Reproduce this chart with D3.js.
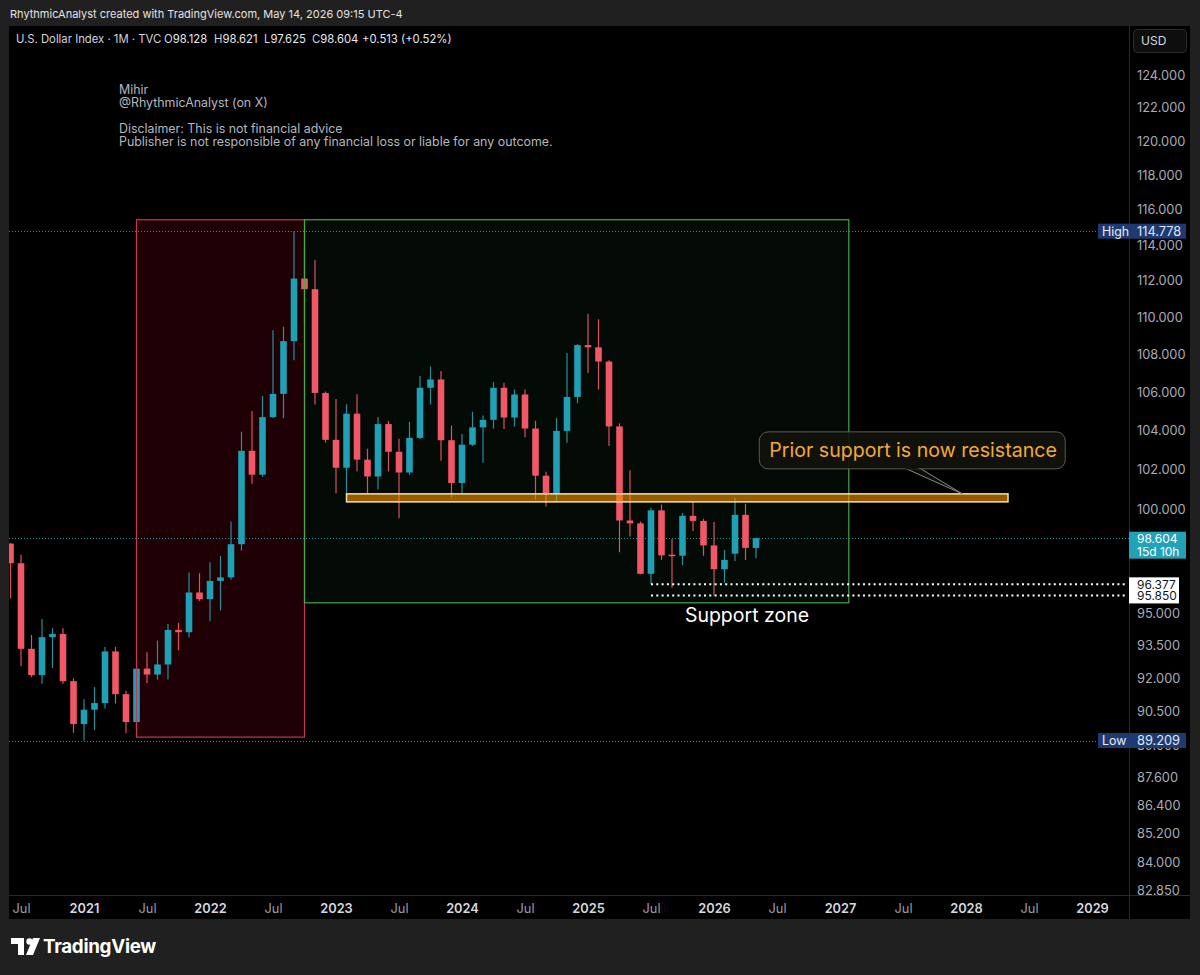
<!DOCTYPE html>
<html><head><meta charset="utf-8">
<script src="https://cdn.jsdelivr.net/npm/d3@7"></script>
<style>
html,body{margin:0;padding:0;background:#202020;}
svg{display:block;}
text{font-family:Inter,"Noto Sans",Roboto,sans-serif;}
</style></head><body>
<svg id="c" width="1200" height="975"></svg>
<script>
// ---------- DATA ----------
const months = ["2020-06","2020-07","2020-08","2020-09","2020-10","2020-11","2020-12",
"2021-01","2021-02","2021-03","2021-04","2021-05","2021-06","2021-07","2021-08","2021-09","2021-10","2021-11","2021-12",
"2022-01","2022-02","2022-03","2022-04","2022-05","2022-06","2022-07","2022-08","2022-09","2022-10","2022-11","2022-12",
"2023-01","2023-02","2023-03","2023-04","2023-05","2023-06","2023-07","2023-08","2023-09","2023-10","2023-11","2023-12",
"2024-01","2024-02","2024-03","2024-04","2024-05","2024-06","2024-07","2024-08","2024-09","2024-10","2024-11","2024-12",
"2025-01","2025-02","2025-03","2025-04","2025-05","2025-06","2025-07","2025-08","2025-09","2025-10","2025-11","2025-12",
"2026-01","2026-02","2026-03","2026-04","2026-05"];
const opens  = [98.34,97.39,93.35,92.14,93.89,94.04,91.87,
89.94,90.58,90.88,93.23,91.28,90.03,92.44,92.17,92.63,94.23,94.12,95.99,
95.67,96.54,96.71,98.31,102.96,101.75,104.69,105.90,108.70,112.12,111.53,105.95,
103.52,102.10,104.87,102.51,101.66,104.33,102.91,101.86,103.62,106.22,106.66,103.50,
101.33,103.27,104.16,104.55,106.22,104.67,105.87,104.10,101.70,100.78,103.98,105.74,
108.49,108.37,107.61,104.21,99.47,99.33,96.88,99.97,97.80,97.75,99.70,99.45,
98.25,97.10,97.85,99.75,98.128];
const highs  = [98.36,97.80,93.99,94.74,94.31,94.31,92.00,
91.05,91.60,93.44,93.44,91.43,92.46,93.19,93.73,94.50,94.56,96.94,96.91,
97.44,97.74,99.42,103.94,105.01,105.79,109.29,109.48,114.778,113.88,113.15,106.02,
105.63,105.36,105.88,103.06,104.70,104.50,103.57,104.44,106.84,107.35,107.11,104.26,
103.82,104.97,104.77,106.52,106.49,106.13,106.13,104.50,101.90,104.63,108.07,108.54,
110.18,109.88,107.68,104.37,101.98,99.42,100.10,100.26,98.56,99.84,100.39,99.55,
99.40,98.03,100.60,100.30,98.621];
const lows   = [95.71,92.55,92.05,91.75,92.47,91.75,89.55,
89.209,89.68,90.63,90.86,89.53,89.66,91.78,91.94,91.94,93.28,93.87,95.58,
94.63,95.14,96.60,98.00,101.30,101.64,104.65,104.64,107.68,109.54,105.34,103.38,
100.82,100.80,101.92,100.79,101.01,101.92,99.58,101.74,103.56,105.35,102.46,100.62,
100.82,103.20,102.35,104.10,104.08,104.20,103.65,100.52,100.16,100.40,103.37,105.42,
107.00,106.13,103.20,97.92,98.69,96.85,96.377,97.55,96.22,97.30,98.95,97.75,
95.85,96.45,97.50,97.55,97.625];
const closes = [97.39,93.35,92.14,93.89,94.04,91.87,89.94,
90.58,90.88,93.23,91.28,90.03,92.44,92.17,92.63,94.23,94.12,95.99,95.67,
96.54,96.71,98.31,102.96,101.75,104.69,105.90,108.70,112.12,111.53,105.95,103.52,
102.10,104.87,102.51,101.66,104.33,102.91,101.86,103.62,106.22,106.66,103.50,101.33,
103.27,104.16,104.55,106.22,104.67,105.87,104.10,101.70,100.78,103.98,105.74,108.49,
108.37,107.61,104.21,99.47,99.33,96.88,99.97,97.77,97.75,99.70,99.45,98.25,
97.10,97.55,99.75,98.13,98.604];

const priceTicks = [124,122,120,118,116,114,112,110,108,106,104,102,100,95,93.5,92,90.5,89,87.6,86.4,85.2,84,82.85];
const timeTicks = ["2020-07","2021-01","2021-07","2022-01","2022-07","2023-01","2023-07","2024-01","2024-07",
"2025-01","2025-07","2026-01","2026-07","2027-01","2027-07","2028-01","2028-07","2029-01"];

const highPrice = 114.778, lowPrice = 89.209, lastPrice = 98.604;
const supportLevels = [96.377, 95.850];
const supportStart = "2025-07";
const redBox = ["2021-06", "2022-10", 115.43, 89.36];
const greenBox = ["2022-10", "2027-01-27", 115.43, 95.50];
const resistZone = ["2023-02", "2028-05", 100.79, 100.39];
const calloutTip = ["2027-12-21", 100.79];
const calloutText = "Prior support is now resistance";
const supportText = "Support zone";
const noteLines = ["Mihir","@RhythmicAnalyst (on X)","","Disclaimer: This is not financial advice","Publisher is not responsible of any financial loss or liable for any outcome."];
const titleText = "RhythmicAnalyst created with TradingView.com, May 14, 2026 09:15 UTC-4";
const symbolText = "U.S. Dollar Index · 1M · TVC";
const ohlcText = [["O","98.128"],["H","98.621"],["L","97.625"],["C","98.604"],["","+0.513 (+0.52%)"]];

// ---------- HELPERS ----------
function dIdx(s){
  const p = s.split("-").map(Number);
  const base = (p[0]-2020)*12 + (p[1]-1);
  return p.length > 2 ? base + (p[2]-1)/31 : base;
}

const W = 1200, H = 975;
const L = 9, R = 1129, T = 26, B = 895, RB = 1190, BB = 919;
const UP = "#1fa0b5", DN = "#f25767", UPW = "#2b8e9a", DNW = "#d9525f";
const AX = 12.8, LBL = 12;

const x = d3.scaleLinear().domain([12,108]).range([84,1092]);
const y = d3.scaleLog().domain([82.85,124]).range([890,75]);

const svg = d3.select("#c");
svg.append("rect").attr("width",W).attr("height",H).attr("fill","#202020");
svg.append("text").attr("x",10).attr("y",17.5).attr("fill","#e3e3e3").attr("font-size",11)
  .text(titleText);

svg.append("rect").attr("x",L).attr("y",T).attr("width",RB-L).attr("height",BB-T).attr("fill","#000");

const defs = svg.append("defs");
defs.append("clipPath").attr("id","plotclip").append("rect")
  .attr("x",L).attr("y",T).attr("width",R-L).attr("height",B-T);

const plot = svg.append("g").attr("clip-path","url(#plotclip)");

function boxRect(b){
  const x0 = x(dIdx(b[0])), x1 = x(dIdx(b[1]));
  const y0 = y(b[2]), y1 = y(b[3]);
  return {x:x0, y:y0, w:x1-x0, h:y1-y0};
}
const rb = boxRect(redBox), gb = boxRect(greenBox);
plot.append("rect").attr("x",rb.x).attr("y",rb.y).attr("width",rb.w).attr("height",rb.h)
  .attr("fill","rgba(185,0,22,0.17)");
plot.append("rect").attr("x",gb.x).attr("y",gb.y).attr("width",gb.w).attr("height",gb.h)
  .attr("fill","rgba(76,175,80,0.06)");

function hDotted(p, color, x2){
  plot.append("line").attr("x1",L).attr("x2",x2).attr("y1",Math.round(y(p))+0.5).attr("y2",Math.round(y(p))+0.5)
    .attr("stroke",color).attr("stroke-width",1).attr("stroke-dasharray","1,2");
}
hDotted(highPrice,"#6a6d78",R);
hDotted(lowPrice,"#6a6d78",R);
hDotted(lastPrice,"#2a8f9c",R);

// candles
const data = months.map((m,i)=>({i:dIdx(m), o:opens[i], h:highs[i], l:lows[i], c:closes[i]}));
const bw = 6.6;
const cg = plot.append("g");
cg.selectAll("line").data(data).join("line")
  .attr("x1",d=>x(d.i)).attr("x2",d=>x(d.i))
  .attr("y1",d=>y(d.h)).attr("y2",d=>y(d.l))
  .attr("stroke",d=>d.c>=d.o?UPW:DNW).attr("stroke-width",1.2);
cg.selectAll("rect").data(data).join("rect")
  .attr("x",d=>x(d.i)-bw/2).attr("width",bw)
  .attr("y",d=>y(Math.max(d.o,d.c)))
  .attr("height",d=>Math.max(1.5, Math.abs(y(d.o)-y(d.c))))
  .attr("fill",d=>d.c>=d.o?UP:DN);

plot.append("rect").attr("x",rb.x).attr("y",rb.y).attr("width",rb.w).attr("height",rb.h)
  .attr("fill","none").attr("stroke","#c8364f").attr("stroke-width",1.2);
plot.append("rect").attr("x",gb.x).attr("y",gb.y).attr("width",gb.w).attr("height",gb.h)
  .attr("fill","none").attr("stroke","#46a94a").attr("stroke-width",1.2);

const rz = boxRect(resistZone);
plot.append("rect").attr("x",rz.x).attr("y",rz.y).attr("width",rz.w).attr("height",rz.h)
  .attr("fill","rgba(250,145,0,0.6)").attr("stroke","#f1e1b0").attr("stroke-width",1.5);

supportLevels.forEach(p=>{
  plot.append("line").attr("x1",x(dIdx(supportStart))).attr("x2",R-3)
    .attr("y1",y(p)).attr("y2",y(p))
    .attr("stroke","#ffffff").attr("stroke-width",2).attr("stroke-dasharray","2,3.3");
});
plot.append("text").attr("x",747).attr("y",622).attr("text-anchor","middle")
  .attr("fill","#ffffff").attr("font-size",19.5).text(supportText);

// callout
const tipX = x(dIdx(calloutTip[0])), tipY = y(calloutTip[1]);
const bx = tipX-203, by = tipY-62, bwid = 306, bh = 37;
plot.append("path")
  .attr("d",`M${tipX-58},${by+bh-1} L${tipX},${tipY} L${tipX-43},${by+bh-1}`)
  .attr("fill","#0c0c08").attr("stroke","#8b8b84").attr("stroke-width",1);
plot.append("rect").attr("x",bx).attr("y",by).attr("width",bwid).attr("height",bh).attr("rx",9)
  .attr("fill","rgba(18,18,12,0.92)").attr("stroke","#5c5c55").attr("stroke-width",1);
plot.append("path")
  .attr("d",`M${tipX-57},${by+bh-0.5} L${tipX-44},${by+bh-0.5}`)
  .attr("stroke","#12120c").attr("stroke-width",2);
plot.append("text").attr("x",bx+10).attr("y",by+25).attr("fill","#f2a93a").attr("font-size",19.6)
  .text(calloutText);

// notes
noteLines.forEach((t,i)=>{
  if(!t) return;
  svg.append("text").attr("x",119).attr("y",93.5+i*13).attr("fill","#b4b7bf").attr("font-size",12.4).text(t);
});

// header
svg.append("text").attr("x",16).attr("y",43).attr("fill","#d1d4dc").attr("font-size",11.3).text(symbolText);
const ohlcX = [164,214,264,312,362];
ohlcText.forEach((p,i)=>{
  const t = svg.append("text").attr("x",ohlcX[i]).attr("y",43).attr("font-size",11.3);
  if(p[0]) t.append("tspan").attr("fill","#d1d4dc").text(p[0]);
  t.append("tspan").attr("fill","#e6e8ee").text(p[1]);
});

// separators
svg.append("line").attr("x1",L).attr("x2",RB).attr("y1",B+0.5).attr("y2",B+0.5).attr("stroke","#2a2a2a");
svg.append("line").attr("x1",R+0.5).attr("x2",R+0.5).attr("y1",T).attr("y2",BB).attr("stroke","#2a2a2a");

// price axis
const yAxis = d3.axisRight(y).tickValues(priceTicks).tickFormat(d3.format(".3f")).tickSize(0).tickPadding(8);
const ya = svg.append("g").attr("transform",`translate(${R},0)`).call(yAxis);
ya.select(".domain").remove();
ya.selectAll("text").attr("fill","#a9acb5").attr("font-size",AX).attr("font-family","Inter,'Noto Sans',sans-serif");

// time axis
const xAxis = d3.axisBottom(x).tickValues(timeTicks.map(dIdx))
  .tickFormat(v=>{ const m = ((v%12)+12)%12; return m===0 ? String(2020+Math.floor(v/12)) : "Jul"; })
  .tickSize(0).tickPadding(8.5);
const xa = svg.append("g").attr("transform",`translate(0,${B})`).call(xAxis);
xa.select(".domain").remove();
xa.selectAll("text").attr("font-size",AX).attr("font-family","Inter,'Noto Sans',sans-serif")
  .attr("fill",v=>(v%12===0)?"#d6d8de":"#9a9da6")
  .attr("font-weight",v=>(v%12===0)?600:400);

// price labels
function navyLabel(p, name){
  const yy = y(p);
  svg.append("rect").attr("x",1098).attr("y",yy-7.5).attr("width",88).attr("height",15).attr("fill","#1f3a70");
  svg.append("text").attr("x",1102).attr("y",yy+4.5).attr("fill","#e8edf8").attr("font-size",12.4).text(name);
  svg.append("text").attr("x",1137).attr("y",yy+4.5).attr("fill","#dfe7ff").attr("font-size",AX).text(p.toFixed(3));
}
navyLabel(highPrice,"High");
navyLabel(lowPrice,"Low");

const ly = y(lastPrice);
svg.append("rect").attr("x",R).attr("y",ly-6.5).attr("width",57).attr("height",27).attr("fill","#22a2b6");
svg.append("text").attr("x",1137).attr("y",ly+4.5).attr("fill","#ffffff").attr("font-size",LBL).text(lastPrice.toFixed(3));
svg.append("text").attr("x",1137).attr("y",ly+17.5).attr("fill","#ffffff").attr("font-size",LBL).text("15d 10h");

const sy0 = y(supportLevels[0]), sy1 = y(supportLevels[1]);
svg.append("rect").attr("x",R).attr("y",sy0-7).attr("width",50).attr("height",sy1-sy0+15).attr("fill","#ffffff");
supportLevels.forEach(p=>{
  svg.append("text").attr("x",1137).attr("y",y(p)+4.5).attr("fill","#131722").attr("font-size",LBL).text(p.toFixed(3));
});

// USD button
svg.append("rect").attr("x",1133.5).attr("y",29.5).attr("width",53).attr("height",23).attr("rx",4)
  .attr("fill","#0e0e0e").attr("stroke","#2c2c2c");
svg.append("text").attr("x",1141).attr("y",45).attr("fill","#d8dae0").attr("font-size",12).text("USD");

// TradingView logo
const lg = svg.append("g").attr("fill","#ffffff");
lg.append("path").attr("d","M11,938 H24 V955 H18 V944 H11 Z");
lg.append("circle").attr("cx",29.5).attr("cy",941.5).attr("r",3.2);
lg.append("path").attr("d","M33,938 H40 L33,955 H26 Z");
lg.append("text").attr("x",43).attr("y",953).attr("font-size",18.8).attr("font-weight",700)
  .attr("letter-spacing","-0.3").text("TradingView");
</script>
</body></html>
